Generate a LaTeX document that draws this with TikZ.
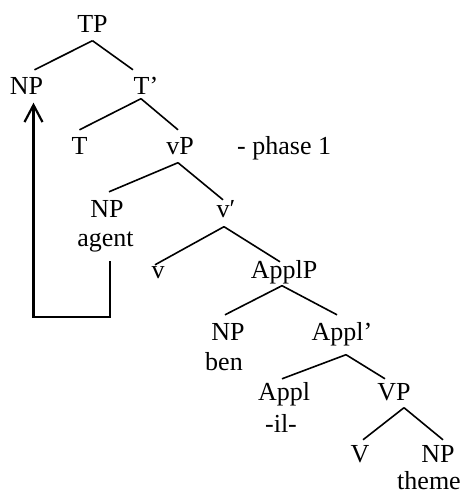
\documentclass[tikz,border=0pt]{standalone}
\usepackage{fontspec}
\setmainfont{Liberation Serif}
\usetikzlibrary{arrows.meta}
\begin{document}
\begin{tikzpicture}[x = 1pt, y = -1pt]
		\tikzstyle{wort} = [font = \fontsize{26}{31}\selectfont, anchor = base, inner xsep = 0pt, inner ysep = 7.5pt, text height = 17.5pt, text depth = 0pt]
		\tikzstyle{zusatz} = [wort, inner ysep = 0pt]
		\tikzstyle{ast} = [draw = black, line width = 1.6pt]
		\tikzstyle{bewegung} = [draw = black, line width = 2.2pt, -{Straight Barb[length = 17pt, width = 18pt]}]

\useasboundingbox (0,0) rectangle (462,494);

% Knoten
\node[wort] (TP) at (92.5,33) {TP};
\node[wort] (NPa) at (26.5,95) {NP};
\node[wort] (Tbar) at (146,95) {T’};
\node[wort] (T) at (79.5,155) {T};
\node[wort] (vP) at (180,155) {vP};
\node[wort, anchor = base west] (phase) at (237,155) {- phase 1};
\node[wort] (NPb) at (107,217) {NP};
\node[zusatz] (agent) at (105.5,246) {agent};
\node[wort] (vbar) at (226,217) {v′};
\node[wort] (v) at (158,278) {v};
\node[wort] (ApplP) at (284,278) {ApplP};
\node[wort] (NPc) at (228,340) {NP};
\node[zusatz] (ben) at (224,370) {ben};
\node[wort] (Applbar) at (342,340) {Appl’};
\node[wort] (Appl) at (284,400) {Appl};
\node[zusatz] (il) at (281,432) {-il-};
\node[wort] (VP) at (394,400) {VP};
\node[wort] (V) at (360,462) {V};
\node[wort] (NPd) at (438,462) {NP};
\node[zusatz] (theme) at (429,489) {theme};

% Äste
\draw[ast] (TP.south) -- ([xshift = 8pt]NPa.north);
\draw[ast] (TP.south) -- ([xshift = -13pt]Tbar.north);
\draw[ast] ([xshift = -5pt, yshift = 4pt]Tbar.south) -- (T.north);
\draw[ast] ([xshift = -5pt, yshift = 4pt]Tbar.south) -- ([xshift = -2pt]vP.north);
\draw[ast] ([xshift = -2pt]vP.south) -- ([xshift = 2pt]NPb.north);
\draw[ast] ([xshift = -2pt]vP.south) -- ([xshift = -3pt, yshift = -8pt]vbar.north);
\draw[ast] ([xshift = -2pt, yshift = -2pt]vbar.south) -- ([xshift = -3pt, yshift = -12pt]v.north);
\draw[ast] ([xshift = -2pt, yshift = -2pt]vbar.south) -- ([xshift = -4pt, yshift = -9pt]ApplP.north);
\draw[ast] ([xshift = -2pt]ApplP.south) -- ([xshift = -3pt]NPc.north);
\draw[ast] ([xshift = -2pt]ApplP.south) -- ([xshift = -5pt]Applbar.north);
\draw[ast] ([xshift = 4pt, yshift = -7pt]Applbar.south) -- ([xshift = -2pt, yshift = -4pt]Appl.north);
\draw[ast] ([xshift = 4pt, yshift = -7pt]Applbar.south) -- ([xshift = -9pt, yshift = -4pt]VP.north);
\draw[ast] ([xshift = 10pt]VP.south) -- ([xshift = 3pt, yshift = -3pt]V.north);
\draw[ast] ([xshift = 10pt]VP.south) -- ([xshift = 5pt, yshift = -3pt]NPd.north);

% Bewegung
\coordinate (spur) at (110,261);
\draw[bewegung] (spur) -- ++(0,56) -| ([xshift = 7pt]NPa.south);

	\end{tikzpicture}
\end{document}
